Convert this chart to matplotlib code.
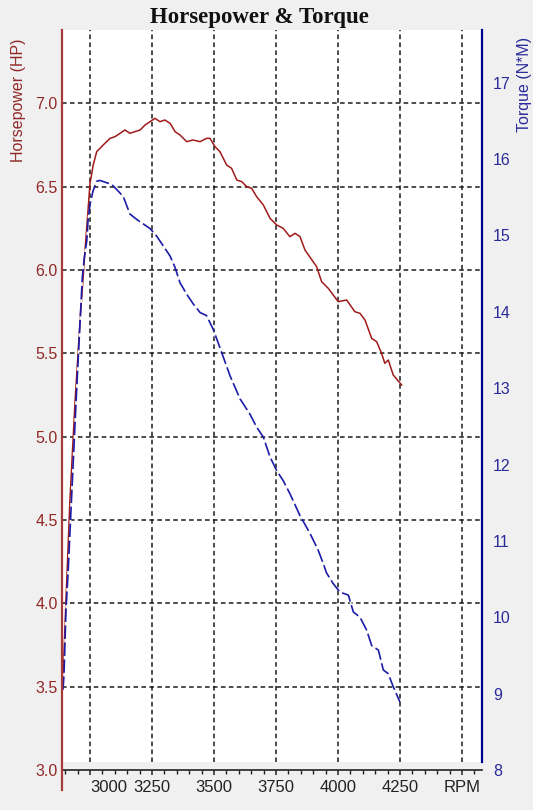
import matplotlib.pyplot as plt
import matplotlib.patches as mpatches
from matplotlib.lines import Line2D
from matplotlib.ticker import MultipleLocator, FixedLocator

# ── DATA ─────────────────────────────────────────────────────────────────────
hp_rpm = [2891, 2903, 2919, 2940, 2960, 2980, 3000, 3013, 3027, 3040, 3060, 3081,
          3101, 3121, 3141, 3161, 3181, 3202, 3222, 3242, 3262, 3282, 3302, 3323,
          3343, 3363, 3390, 3415, 3444, 3470, 3484, 3504, 3524, 3551, 3571, 3592,
          3612, 3632, 3652, 3672, 3699, 3726, 3753, 3779, 3806, 3827, 3847, 3867,
          3914, 3934, 3961, 4001, 4035, 4068, 4089, 4109, 4136, 4156, 4176, 4189,
          4203, 4223, 4257]
hp_vals = [3.54, 4.02, 4.62, 5.22, 5.70, 6.12, 6.52, 6.63, 6.71, 6.73, 6.76, 6.79,
           6.80, 6.82, 6.84, 6.82, 6.83, 6.84, 6.87, 6.89, 6.91, 6.89, 6.90, 6.88,
           6.83, 6.81, 6.77, 6.78, 6.77, 6.79, 6.79, 6.74, 6.71, 6.63, 6.61, 6.54,
           6.53, 6.50, 6.49, 6.44, 6.39, 6.31, 6.27, 6.25, 6.20, 6.22, 6.20, 6.12,
           6.02, 5.93, 5.89, 5.81, 5.82, 5.75, 5.74, 5.70, 5.59, 5.57, 5.50, 5.44,
           5.46, 5.37, 5.31]

tq_rpm = [2891, 2895, 2903, 2912, 2927, 2944, 2960, 2969, 2977, 2987, 2992, 3000,
          3012, 3027, 3040, 3067, 3087, 3108, 3134, 3161, 3188, 3215, 3242, 3269,
          3296, 3323, 3343, 3363, 3390, 3417, 3444, 3470, 3497, 3524, 3565, 3605,
          3645, 3672, 3699, 3726, 3753, 3779, 3806, 3847, 3887, 3920, 3940, 3954,
          3981, 4008, 4042, 4062, 4089, 4116, 4136, 4163, 4183, 4203, 4223, 4250]
tq_vals = [9.05, 9.24, 10.09, 10.61, 11.66, 12.84, 13.88, 14.45, 14.71, 14.93, 15.19, 15.41,
           15.58, 15.71, 15.72, 15.69, 15.67, 15.60, 15.51, 15.28, 15.21, 15.15, 15.09, 14.99,
           14.86, 14.73, 14.58, 14.38, 14.23, 14.10, 13.99, 13.95, 13.77, 13.53, 13.16, 12.86,
           12.66, 12.49, 12.36, 12.10, 11.92, 11.79, 11.62, 11.33, 11.10, 10.88, 10.71, 10.58,
           10.44, 10.33, 10.29, 10.07, 10.00, 9.83, 9.63, 9.57, 9.31, 9.26, 9.09, 8.89]

x_ticks = [3000, 3250, 3500, 3750, 4000, 4250, 4500]
x_tick_labels = ["3000", "3250", "3500", "3750", "4000", "4250", "RPM"]
hp_ticks = [3.0, 3.5, 4.0, 4.5, 5.0, 5.5, 6.0, 6.5, 7.0]
tq_ticks = [8, 9, 10, 11, 12, 13, 14, 15, 16, 17]

# ── APPEARANCE ───────────────────────────────────────────────────────────────
BG = "#f0f0f0"
HP_AXIS = "#a83a3a"
HP_TEXT = "#922828"
HP_LINE = "#a01a1a"
TQ_AXIS = "#00008b"
TQ_TEXT = "#2a2a9a"
TQ_LINE = "#1c1ca8"
FONT = "Liberation Sans"

W, H = 533, 810
L_PX, R_PX, T_PX, B_PX = 62, 482, 30, 770

fig = plt.figure(figsize=(W / 100, H / 100), dpi=100)
fig.patch.set_facecolor(BG)
ax = fig.add_axes([L_PX / W, 1 - B_PX / H, (R_PX - L_PX) / W, (B_PX - T_PX) / H])
ax.set_facecolor("white")
ax2 = ax.twinx()

ax.set_xlim(2887, 4581)
ax.set_ylim(3.0, 7.44)
ax2.set_ylim(8.0, 17.69)

# gray strip between plot area and the rpm axis
ax.add_patch(mpatches.Rectangle((0, 0), 1, 8 / (B_PX - T_PX), transform=ax.transAxes,
                                facecolor=BG, edgecolor="none", zorder=1))

ax.plot(hp_rpm, hp_vals, color=HP_LINE, lw=1.1, zorder=3)
ax2.plot(tq_rpm, tq_vals, color=TQ_LINE, lw=1.2, linestyle=(0, (8, 2.2)),
         gapcolor="#f6f6f6", zorder=3)

# grid
ax.set_axisbelow(True)
ax.xaxis.set_major_locator(FixedLocator(x_ticks))
ax.xaxis.set_minor_locator(MultipleLocator(50))
ax.set_yticks(hp_ticks)
ax.grid(True, which="major", color="#1a1a1a", lw=1.1, linestyle=(0, (3, 2.2)))

# spines
for s in ["top", "left", "right"]:
    ax.spines[s].set_visible(False)
    ax2.spines[s].set_visible(False)
ax2.spines["bottom"].set_visible(False)
ax.spines["bottom"].set_color("#222222")
ax.spines["bottom"].set_linewidth(1.2)

fig.add_artist(Line2D([L_PX / W] * 2, [1 - 790 / H, 1 - T_PX / H], color=HP_AXIS, lw=1.6))
fig.add_artist(Line2D([R_PX / W] * 2, [1 - 762 / H, 1 - T_PX / H], color=TQ_AXIS, lw=1.6))

# x ticks
ax.set_xticklabels(x_tick_labels, fontsize=12, family=FONT, color="#222222")
ax.tick_params(axis="x", which="major", direction="inout", length=7, width=1.1,
               color="#222222", pad=4)
ax.tick_params(axis="x", which="minor", direction="out", length=3, width=1.0,
               color="#222222")
ax.get_xticklabels()[0].set_horizontalalignment("left")

# y ticks
ax.set_yticklabels([f"{v:.1f}" for v in hp_ticks], fontsize=11.5, family=FONT,
                   color=HP_TEXT)
ax.tick_params(axis="y", length=0, pad=3)
ax2.set_yticks(tq_ticks)
ax2.set_yticklabels([str(v) for v in tq_ticks], fontsize=11.5, family=FONT,
                    color=TQ_TEXT)
ax2.tick_params(axis="y", length=0, pad=8)

# labels and title
fig.text(19 / W, 1 - 100 / H, "Horsepower (HP)", rotation=90, ha="center", va="center",
         fontsize=11.5, family=FONT, color=HP_TEXT)
fig.text(525 / W, 1 - 37 / H, "Torque (N*M)", rotation=90, ha="center", va="top",
         fontsize=11.5, family=FONT, color=TQ_TEXT)
fig.text(259 / W, 1 - 17 / H, "Horsepower & Torque", ha="center", va="center",
         fontsize=16.5, fontweight="bold", family="Liberation Serif", color="#111111")

fig.savefig("out.png", dpi=100, facecolor=BG)
